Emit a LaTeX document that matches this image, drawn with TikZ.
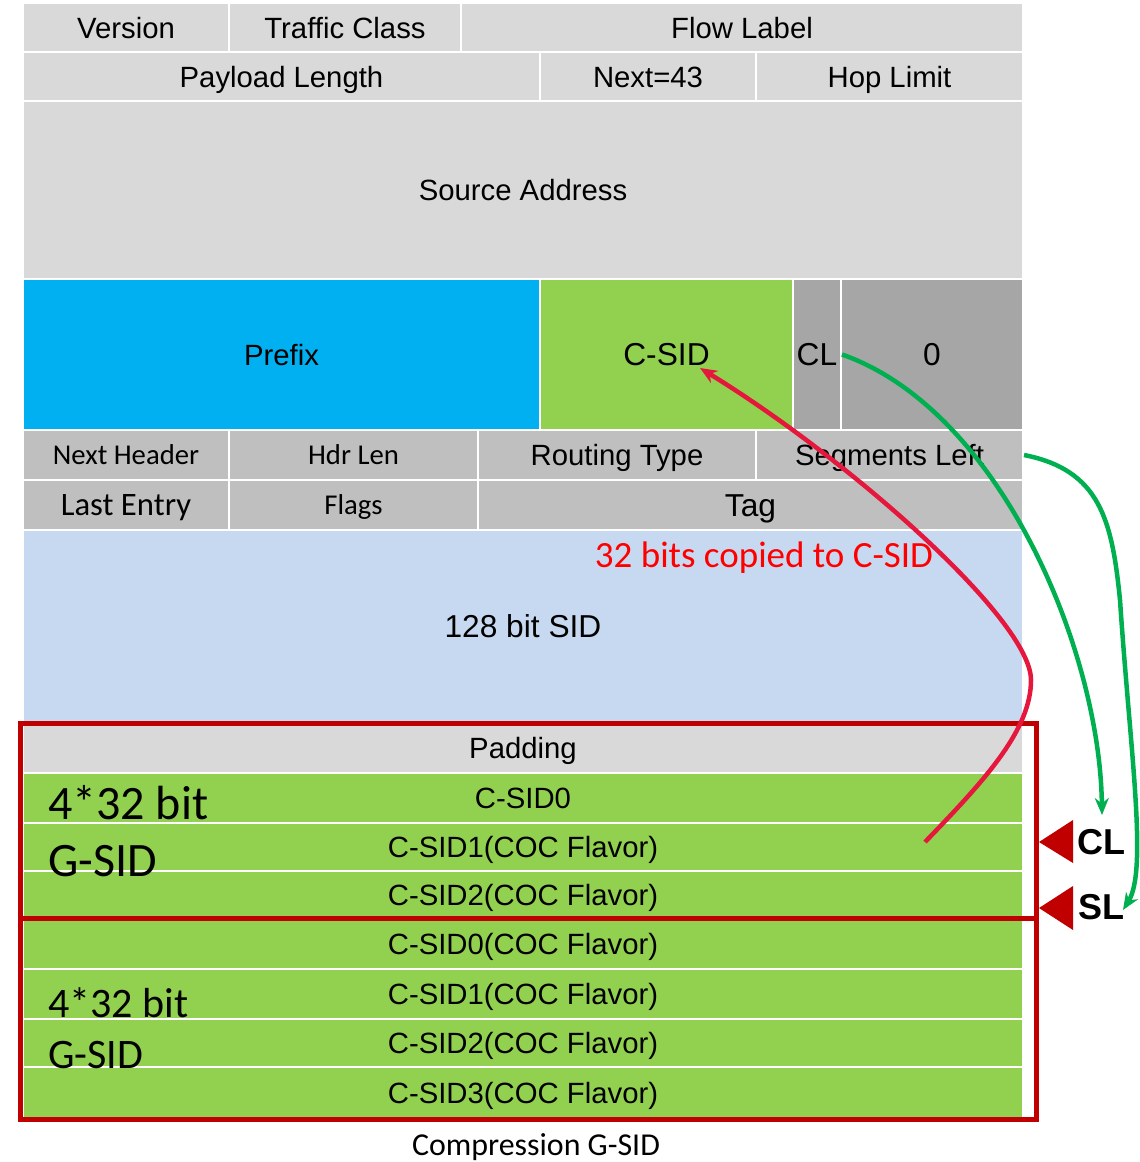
\documentclass[tikz,border=0pt]{standalone}
\usepackage{fontspec}
\usetikzlibrary{arrows.meta}
\setmainfont{Liberation Sans}
\newfontfamily\calfont{Carlito}
\definecolor{hdrgray}{HTML}{D9D9D9}
\definecolor{srhgray}{HTML}{BFBFBF}
\definecolor{flggray}{HTML}{A6A6A6}
\definecolor{pfxblue}{HTML}{00B0F0}
\definecolor{sidgreen}{HTML}{92D050}
\definecolor{sidblue}{HTML}{C6D9F1}
\definecolor{boxred}{HTML}{C00000}
\definecolor{copyred}{HTML}{E5173C}
\definecolor{ptrgreen}{HTML}{00B050}
\tikzset{
    field/.style={draw=white,line width=2pt,inner sep=0pt,text height=21pt,text depth=0pt,
        font=\fontsize{29.3}{30}\selectfont},
    bigfield/.style={font=\fontsize{31.7}{33}\selectfont,text height=22.7pt},
    calfield/.style={font=\calfont\fontsize{28.7}{30}\selectfont,text height=18.5pt},
    bigtag/.style={anchor=base west,inner sep=0pt,font=\calfont\fontsize{#1}{#1}\selectfont},
    ptrtag/.style={anchor=west,inner sep=0pt,font=\bfseries\fontsize{36}{38}\selectfont},
}
% style, name, x1, y1, x2, y2, text
\newcommand{\pktfield}[7]{%
    \pgfmathsetmacro\fw{#5-#3}\pgfmathsetmacro\fh{#6-#4}%
    \node[field,#1,minimum width=\fw pt,minimum height=\fh pt] (#2) at ({(#3+#5)/2},{(#4+#6)/2}) {#7};}
\begin{document}
\begin{tikzpicture}[x=1pt,y=-1pt,>={Stealth[length=17pt,width=14pt]}]
    \useasboundingbox (0,0) rectangle (1140,1162);
    %=========================================== IPv6 header
    \pktfield{fill=hdrgray}{ver}{23}{3}{229}{52}{Version}
    \pktfield{fill=hdrgray}{tc}{229}{3}{461}{52}{Traffic Class}
    \pktfield{fill=hdrgray}{flow}{461}{3}{1023}{52}{Flow Label}
    \pktfield{fill=hdrgray}{plen}{23}{52}{540}{101}{Payload Length}
    \pktfield{fill=hdrgray}{nxt}{540}{52}{756}{101}{Next=43}
    \pktfield{fill=hdrgray}{hop}{756}{52}{1023}{101}{Hop Limit}
    \pktfield{fill=hdrgray}{src}{23}{101}{1023}{279}{Source Address}
    %=========================================== destination address
    \pktfield{fill=pfxblue}{prefix}{23}{279}{540}{430}{Prefix}
    \pktfield{fill=sidgreen,bigfield}{csid}{540}{279}{793}{430}{C-SID}
    \pktfield{fill=flggray,bigfield}{cl}{793}{279}{841}{430}{CL}
    \pktfield{fill=flggray,bigfield}{zero}{841}{279}{1023}{430}{0}
    %=========================================== SRH
    \pktfield{fill=srhgray,calfield}{nh}{23}{430}{229}{480}{Next Header}
    \pktfield{fill=srhgray,calfield}{hl}{229}{430}{478}{480}{Hdr Len}
    \pktfield{fill=srhgray}{rt}{478}{430}{756}{480}{Routing Type}
    \pktfield{fill=srhgray}{sl}{756}{430}{1023}{480}{Segments Left}
    \pktfield{fill=srhgray,calfield,font=\calfont\fontsize{32.7}{34}\selectfont,text height=21pt}{le}{23}{480}{229}{530}{Last Entry}
    \pktfield{fill=srhgray,calfield}{flags}{229}{480}{478}{530}{Flags}
    \pktfield{fill=srhgray,bigfield}{tag}{478}{480}{1023}{530}{Tag}
    \pktfield{fill=sidblue,bigfield}{sid}{23}{530}{1023}{723}{128 bit SID}
    %=========================================== compressed SIDs
    \pktfield{fill=hdrgray}{pad}{23}{723}{1023}{773}{Padding}
    \pktfield{fill=sidgreen}{ga0}{23}{773}{1023}{823}{C-SID0}
    \pktfield{fill=sidgreen}{ga1}{23}{823}{1023}{871}{C-SID1(COC Flavor)}
    \pktfield{fill=sidgreen}{ga2}{23}{871}{1023}{918}{C-SID2(COC Flavor)}
    \pktfield{fill=sidgreen}{gb0}{23}{918}{1023}{969}{C-SID0(COC Flavor)}
    \pktfield{fill=sidgreen}{gb1}{23}{969}{1023}{1019}{C-SID1(COC Flavor)}
    \pktfield{fill=sidgreen}{gb2}{23}{1019}{1023}{1067}{C-SID2(COC Flavor)}
    \pktfield{fill=sidgreen}{gb3}{23}{1067}{1023}{1118}{C-SID3(COC Flavor)}
    \node[bigtag=48] (gsida) at (48,819) {4*32 bit};
    \node[bigtag=48] (gsidb) at (48,876) {G-SID};
    \node[bigtag=42] (gsidc) at (48,1017) {4*32 bit};
    \node[bigtag=42] (gsidd) at (48,1068) {G-SID};
    \draw[boxred,line width=5pt] (20,723) rectangle (1036,1119);
    \draw[boxred,line width=5pt] (20,918) -- (1036,918);
    \node[font=\calfont\fontsize{31.9}{33}\selectfont] (cap) at (536,1147) {Compression G-SID};
    %=========================================== pointers
    \fill[boxred] (1039,842) -- (1073,820) -- (1073,863) -- cycle;
    \fill[boxred] (1039,908) -- (1073,886) -- (1073,930) -- cycle;
    \node[ptrtag] (clptr) at (1077,842) {CL};
    \node[ptrtag] (slptr) at (1078,907) {SL};
    \coordinate (clin) at (1102,815);
    \coordinate (slin) at (1123,910);
    \coordinate (cfrom) at (925,842);
    \coordinate (cto) at (700,368);
    \draw[->,ptrgreen,line width=4.5pt] (cl.east) .. controls (1000,410) and (1100,650) .. (clin);
    \draw[->,ptrgreen,line width=4.5pt] (sl.east) .. controls (1100,470) and (1112,520) .. (1120,600)
        .. controls (1130,750) and (1148,870) .. (slin);
    \draw[->,copyred,line width=4.5pt] (cfrom) .. controls (985,780) and (1031,730) .. (1031,680)
        .. controls (1031,620) and (850,460) .. (cto);
    \node[font=\calfont\fontsize{37}{39}\selectfont,text=red] (copied) at (764,558) {32 bits copied to C-SID};
\end{tikzpicture}
\end{document}
